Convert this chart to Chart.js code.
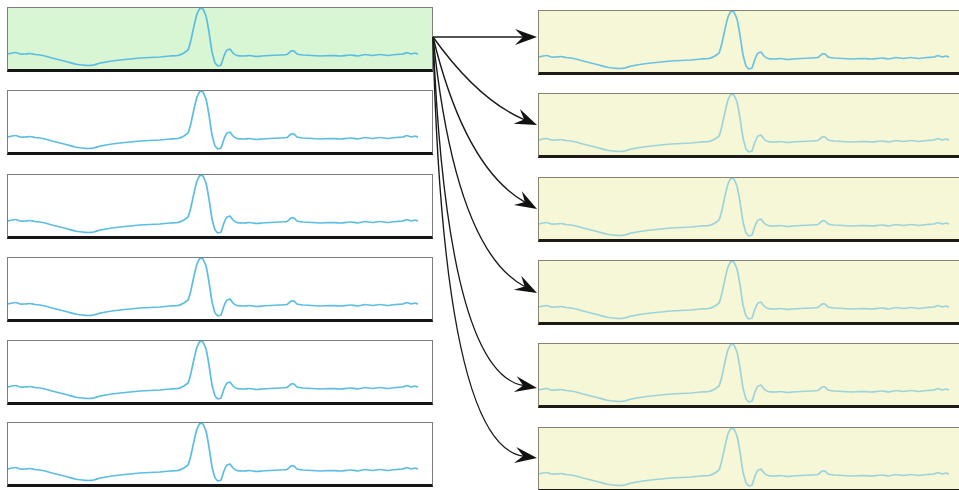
<!DOCTYPE html>
<html><head><meta charset="utf-8">
<script src="https://cdn.jsdelivr.net/npm/chart.js@4"></script>
<style>
html,body{margin:0;padding:0;background:#fff;width:959px;height:490px;overflow:hidden;position:relative}
.panel{position:absolute;box-sizing:border-box;width:426px;height:65px;border:1.5px solid #808080;border-bottom:3px solid #151515}
.panel canvas{position:absolute;left:0;top:0}
svg{position:absolute;left:0;top:0}
</style></head><body>
<script>
// waveform samples (x offset in trace units, amplitude)
const sampleX = [0,4,8,12,17,22,27,32,37,44,52,60,67,74,80,86,92,98,104,112,122,132,142,152,162,170,176,180,183,186,189,192,195,198,201,204,207,210,213,216,219,222,225,229,235,242,248,254,262,272,279,283,286,289,295,304,312,322,332,342,350,357,364,372,380,388,395,399,403,407,410];
const sampleY = [17,18,18.5,17,17,17.5,16.5,16,15,13,11,9,7,6,5.5,6,8,9,10,11,12,13,13.5,14,15,15.5,18,21,31,45,57,63,62,55,39,19,8,5,6,15,21,22,18,15.5,15,15.5,14.5,15,15.5,16,16.5,20,20,17,16,15.5,15,15.5,15,16,15,16.5,15.5,16.5,15.5,16.5,17,18.5,17,18,17];
const leftTops = [7,90,174,257,340,422];
const rightTops = [10,93,177,260,343,427];
const leftBg = ['#d8f5d4','#ffffff','#ffffff','#ffffff','#ffffff','#ffffff'];
const rightLine = ['#6cc2e0','#9dd3d9','#9dd3d9','#9dd3d9','#9dd3d9','#9dd3d9'];
const arrowEndY = [37,125,209,293,388,458];
const arrowCtrl = [[480,37],[478,100],[465,168],[455,250],[447,372],[443,445]];

function makePanel(left, top, bg, border, bottom, lineColor){
  const d = document.createElement('div');
  d.className='panel';
  d.style.left=left+'px'; d.style.top=top+'px';
  d.style.background=bg; d.style.borderColor=border; d.style.borderBottomColor=bottom;
  const c = document.createElement('canvas');
  c.width=424; c.height=61; c.style.width='424px'; c.style.height='61px';
  d.appendChild(c); document.body.appendChild(d);
  new Chart(c,{type:'line',
    data:{datasets:[{data:sampleX.map((x,i)=>({x:x,y:sampleY[i]})),borderColor:lineColor,borderWidth:1.7,pointRadius:0,tension:0.05,clip:false}]},
    options:{responsive:false,animation:false,events:[],
      layout:{padding:0},
      plugins:{legend:{display:false},tooltip:{enabled:false}},
      scales:{x:{type:'linear',display:false,min:0,max:424},y:{display:false,min:2,max:63}}}});
}
leftTops.forEach((t,i)=>makePanel(7,t,leftBg[i],'#7d7d7d','#151515','#5cbde2'));
rightTops.forEach((t,i)=>makePanel(538,t,'#f6f7d7','#8a8270','#1e1a14',rightLine[i]));

// arrows
const ns='http://www.w3.org/2000/svg';
const svg=document.createElementNS(ns,'svg');
svg.setAttribute('width','959');svg.setAttribute('height','490');
document.body.appendChild(svg);
const sx=433, sy=37, ex=537;
arrowEndY.forEach((ey,i)=>{
  const [cx,cy]=arrowCtrl[i];
  let dx=ex-cx, dy=ey-cy; const L=Math.hypot(dx,dy); dx/=L; dy/=L;
  const nx=-dy, ny=dx;
  const len=22, w=8, notch=14;
  const bx=ex-dx*notch, by=ey-dy*notch;
  const p=document.createElementNS(ns,'path');
  p.setAttribute('d',`M${sx},${sy} Q${cx},${cy} ${bx},${by}`);
  p.setAttribute('fill','none');p.setAttribute('stroke','#1a1a1a');p.setAttribute('stroke-width','1.4');
  svg.appendChild(p);
  const h=document.createElementNS(ns,'path');
  const ax=ex-dx*len+nx*w, ay=ey-dy*len+ny*w, cx2=ex-dx*len-nx*w, cy2=ey-dy*len-ny*w;
  h.setAttribute('d',`M${ex},${ey} L${ax},${ay} L${bx},${by} L${cx2},${cy2} Z`);
  h.setAttribute('fill','#111');
  svg.appendChild(h);
});
</script>
</body></html>
